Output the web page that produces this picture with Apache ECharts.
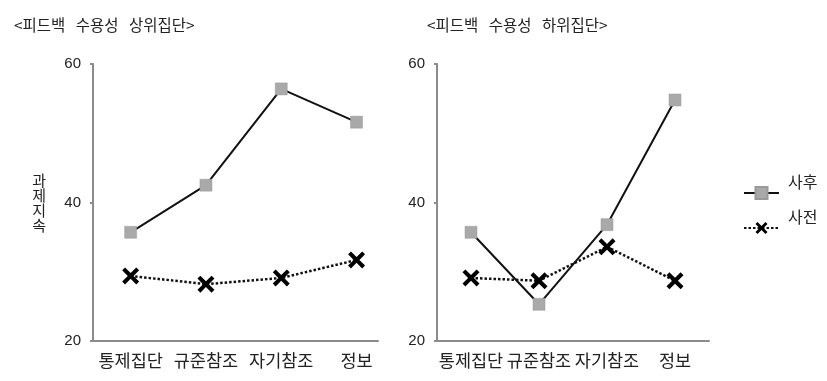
<!DOCTYPE html>
<html><head><meta charset="utf-8">
<script src="https://cdn.jsdelivr.net/npm/echarts@6/dist/echarts.min.js"></script>
<style>html,body{margin:0;padding:0;background:#fff}#c{width:827px;height:381px}</style>
</head><body><div id="c"></div>
<script>
const categories = ['통제집단', '규준참조', '자기참조', '정보'];
const highPost = [35.7, 42.5, 56.4, 51.6];
const highPre = [29.4, 28.2, 29.1, 31.7];
const lowPost = [35.7, 25.3, 36.8, 54.8];
const lowPre = [29.1, 28.7, 33.6, 28.7];
const titles = ['<피드백   수용성   상위집단>', '<피드백   수용성   하위집단>'];
const yName = '과\n제\n지\n속';
const seriesNames = ['사후', '사전'];

const FONT = '"Noto Sans CJK KR", "Liberation Sans", sans-serif';
const XPATH = 'path://M0,1.7 L1.7,0 L5,3.3 L8.3,0 L10,1.7 L6.7,5 L10,8.3 L8.3,10 L5,6.7 L1.7,10 L0,8.3 L3.3,5 Z';
const catIdx = categories.map((c, i) => i);
const pairs = arr => arr.map((v, i) => [i, v]);

function xAxis(i, maxV) {
  return {
    type: 'value', gridIndex: i, min: -0.5, max: maxV,
    splitLine: {show: false},
    axisLine: {onZero: false, lineStyle: {color: '#8c8c8c', width: 2}},
    axisTick: {show: false},
    axisLabel: {color: '#222', fontSize: 17.5, fontFamily: FONT, margin: 11,
      customValues: catIdx, formatter: v => categories[Math.round(v)] || ''}
  };
}
function yAxis(i, named) {
  return {
    type: 'value', gridIndex: i, min: 20, max: 60, interval: 20,
    name: named ? yName : '', nameLocation: 'middle', nameRotate: 0, nameGap: 47,
    nameTextStyle: {color: '#222', fontSize: 15, fontFamily: FONT, lineHeight: 15, padding: [0, 0, 20, 0]},
    splitLine: {show: false},
    axisLine: {show: true, onZero: false, lineStyle: {color: '#8c8c8c', width: 2}},
    axisTick: {show: true, length: 3, lineStyle: {color: '#8c8c8c', width: 2}},
    axisLabel: {color: '#222', fontSize: 15, fontFamily: '"Liberation Sans", sans-serif', margin: 12}
  };
}
function postSeries(i, data) {
  return {
    name: seriesNames[0], type: 'line', xAxisIndex: i, yAxisIndex: i, data: pairs(data),
    symbol: 'rect', symbolSize: 12,
    itemStyle: {color: '#a9a9a9', borderColor: '#9a9a9a', borderWidth: 0.5},
    lineStyle: {color: '#111', width: 2}, z: 3
  };
}
function preSeries(i, data) {
  return {
    name: seriesNames[1], type: 'line', xAxisIndex: i, yAxisIndex: i, data: pairs(data),
    symbol: XPATH, symbolSize: 17,
    itemStyle: {color: '#000'},
    lineStyle: {color: '#111', width: 2.5, type: [2.5, 2]}, z: 2
  };
}

const chart = echarts.init(document.getElementById('c'));
chart.setOption({
  animation: false,
  backgroundColor: '#fff',
  title: [
    {text: titles[0], left: 9, top: 12, textStyle: {color: '#222', fontSize: 15.5, fontWeight: 'normal', fontFamily: FONT}},
    {text: titles[1], left: 422, top: 12, textStyle: {color: '#222', fontSize: 15.5, fontWeight: 'normal', fontFamily: FONT}}
  ],
  legend: {
    orient: 'vertical', left: 738, top: 169, itemWidth: 35, itemHeight: 15, itemGap: 9,
    data: seriesNames,
    formatter: '{t|{name}}',
    textStyle: {color: '#222', fontSize: 16, fontFamily: FONT,
      rich: {t: {color: '#222', fontSize: 16, fontFamily: FONT, padding: [0, 0, 22, 4]}}}
  },
  grid: [
    {left: 93, top: 64, width: 285, height: 277},
    {left: 437, top: 64, width: 272, height: 277}
  ],
  xAxis: [xAxis(0, 3.285), xAxis(1, 3.5)],
  yAxis: [yAxis(0, true), yAxis(1, false)],
  series: [postSeries(0, highPost), preSeries(0, highPre), postSeries(1, lowPost), preSeries(1, lowPre)]
});
</script></body></html>
